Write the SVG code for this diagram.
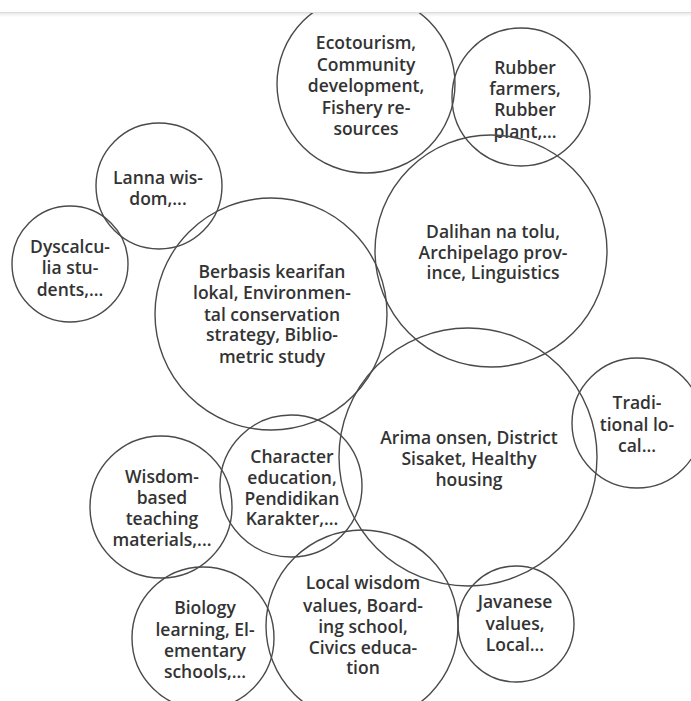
<svg xmlns="http://www.w3.org/2000/svg" width="691" height="701" viewBox="0 0 691 701">
<defs>
<style>
.c{fill:none;stroke:#4a4a4a;stroke-width:1.4}
.t{font-family:"Open Sans","Noto Sans","Liberation Sans",sans-serif;font-weight:600;font-size:17.5px;fill:#333;text-anchor:middle}
</style>
<clipPath id="clip"><rect x="0" y="13" width="691" height="688"/></clipPath>
<linearGradient id="sh" x1="0" y1="0" x2="0" y2="1"><stop offset="0" stop-color="#e4e4e4"/><stop offset="1" stop-color="#ffffff"/></linearGradient>
</defs>
<rect x="0" y="0" width="691" height="701" fill="#fff"/>
<rect x="0" y="12" width="691" height="5" fill="url(#sh)"/>
<line x1="0" y1="12.5" x2="691" y2="12.5" stroke="#dcdcdc" stroke-width="1"/>
<g clip-path="url(#clip)">
<g id="n-ecotourism"><circle class="c" cx="366" cy="84" r="89"/>
<text class="t"><tspan x="366" y="49">Ecotourism,</tspan><tspan x="366" y="71">Community</tspan><tspan x="366" y="92">development,</tspan><tspan x="366" y="114">Fishery re-</tspan><tspan x="366" y="135">sources</tspan></text></g>
<g id="n-rubber"><circle class="c" cx="521" cy="97" r="69"/>
<text class="t"><tspan x="525" y="74">Rubber</tspan><tspan x="525" y="95">farmers,</tspan><tspan x="525" y="116">Rubber</tspan><tspan x="525" y="138">plant,...</tspan></text></g>
<g id="n-lanna"><circle class="c" cx="159" cy="186" r="63"/>
<text class="t"><tspan x="158" y="184">Lanna wis-</tspan><tspan x="158" y="205">dom,...</tspan></text></g>
<g id="n-dyscalculia"><circle class="c" cx="70" cy="264" r="58"/>
<text class="t"><tspan x="70" y="253">Dyscalcu-</tspan><tspan x="70" y="274">lia stu-</tspan><tspan x="70" y="296">dents,...</tspan></text></g>
<g id="n-berbasis"><circle class="c" cx="271" cy="314" r="116"/>
<text class="t"><tspan x="272" y="278">Berbasis kearifan</tspan><tspan x="272" y="299">lokal, Environmen-</tspan><tspan x="272" y="321">tal conservation</tspan><tspan x="272" y="341">strategy, Biblio-</tspan><tspan x="272" y="363">metric study</tspan></text></g>
<g id="n-dalihan"><circle class="c" cx="491" cy="251" r="116"/>
<text class="t"><tspan x="493" y="238">Dalihan na tolu,</tspan><tspan x="493" y="259">Archipelago prov-</tspan><tspan x="493" y="279">ince, Linguistics</tspan></text></g>
<g id="n-arima"><circle class="c" cx="468" cy="457" r="129"/>
<text class="t"><tspan x="469" y="444">Arima onsen, District</tspan><tspan x="469" y="465">Sisaket, Healthy</tspan><tspan x="469" y="486">housing</tspan></text></g>
<g id="n-traditional"><circle class="c" cx="637" cy="423" r="65"/>
<text class="t"><tspan x="637" y="409">Tradi-</tspan><tspan x="637" y="431">tional lo-</tspan><tspan x="637" y="452">cal...</tspan></text></g>
<g id="n-character"><circle class="c" cx="291" cy="486" r="71"/>
<text class="t"><tspan x="292" y="463">Character</tspan><tspan x="292" y="484">education,</tspan><tspan x="292" y="505">Pendidikan</tspan><tspan x="292" y="525">Karakter,...</tspan></text></g>
<g id="n-wisdom"><circle class="c" cx="161" cy="507" r="71"/>
<text class="t"><tspan x="162" y="483">Wisdom-</tspan><tspan x="162" y="504">based</tspan><tspan x="162" y="525">teaching</tspan><tspan x="162" y="546">materials,...</tspan></text></g>
<g id="n-biology"><circle class="c" cx="203" cy="638" r="71"/>
<text class="t"><tspan x="205" y="614">Biology</tspan><tspan x="205" y="636">learning, El-</tspan><tspan x="205" y="657">ementary</tspan><tspan x="205" y="678">schools,...</tspan></text></g>
<g id="n-localwisdom"><circle class="c" cx="362" cy="626" r="96"/>
<text class="t"><tspan x="363" y="589">Local wisdom</tspan><tspan x="363" y="612">values, Board-</tspan><tspan x="363" y="633">ing school,</tspan><tspan x="363" y="654">Civics educa-</tspan><tspan x="363" y="674">tion</tspan></text></g>
<g id="n-javanese"><circle class="c" cx="516" cy="624" r="58"/>
<text class="t"><tspan x="515" y="608">Javanese</tspan><tspan x="515" y="630">values,</tspan><tspan x="515" y="651">Local...</tspan></text></g>
</g>
<g id="connectors"></g>
</svg>
